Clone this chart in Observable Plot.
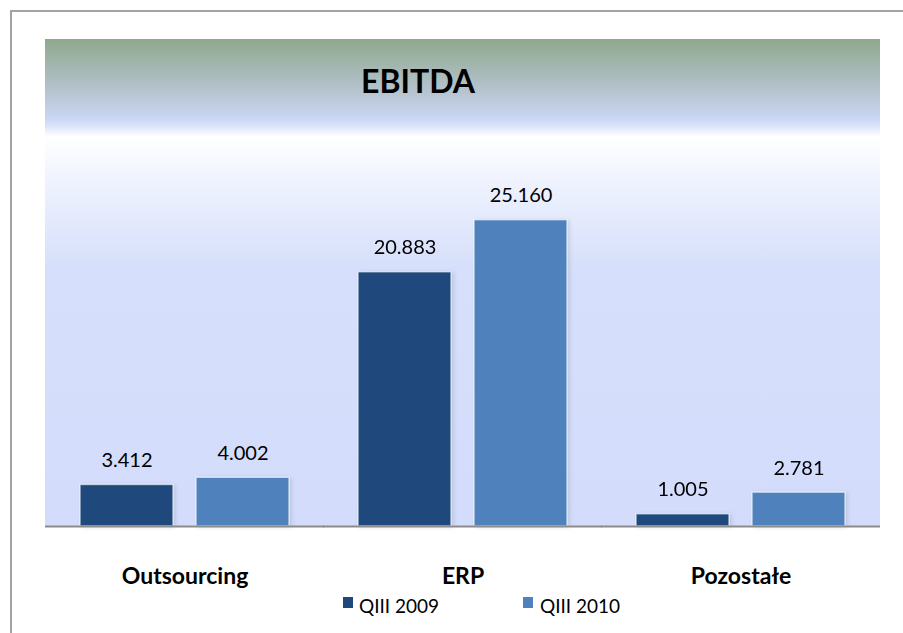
<!DOCTYPE html>
<html>
<head>
<meta charset="utf-8">
<script src="https://cdn.jsdelivr.net/npm/d3@7"></script>
<script src="https://cdn.jsdelivr.net/npm/@observablehq/plot@0.6"></script>
<style>
  body { margin: 0; background: #fff; overflow: hidden; font-family: Lato, "Open Sans", sans-serif; }
  #wrap { position: relative; width: 903px; height: 633px; overflow: hidden; background: #fff; }
  #border { position: absolute; left: 10px; top: 10px; width: 1000px; height: 1000px;
            border-top: 2px solid #a3a3a3; border-left: 2px solid #a3a3a3; box-sizing: border-box; }
  #bg { position: absolute; left: 45px; top: 39px; width: 835px; height: 487px;
        background: linear-gradient(to bottom, #8fa88c 0%, #b5c3ce 10.5%, #cbd7f5 16.5%, #dde5fb 18%,
                    #ffffff 20%, #eef2fe 30%, #d6dffb 47%, #d3ddfb 100%); }
  #chart { position: absolute; left: 0; top: 0; }
  #title { position: absolute; left: 318px; top: 65px; width: 200px; text-align: center;
           font-weight: 700; font-size: 32px; line-height: 1; color: #000; }
  .lg-sw { position: absolute; top: 597px; width: 10px; height: 11px; }
  .lg-tx { position: absolute; top: 596px; font-size: 19px; line-height: 1; color: #000; }
  #chart g[aria-label^="fx-axis"] { font-size: 23px; font-weight: 700; }
  #chart g[aria-label^="fx-axis"] text { fill: #000; }
  #chart g[aria-label="bar"] { filter: drop-shadow(2px 1px 2px rgba(0,0,0,0.12)); }
</style>
</head>
<body>
<div id="wrap">
  <div id="border"></div>
  <div id="bg"></div>
  <div id="chart"></div>
  <div id="title"></div>
  <div id="legend"></div>
</div>
<script>
const titleText = "EBITDA";
const categories = ["Outsourcing", "ERP", "Pozostałe"];
const series = ["QIII 2009", "QIII 2010"];
const values2009 = [3.412, 20.883, 1.005];
const values2010 = [4.002, 25.160, 2.781];
const labels2009 = ["3.412", "20.883", "1.005"];
const labels2010 = ["4.002", "25.160", "2.781"];
const colors = ["#1f497d", "#4f81bd"];

const data = categories.flatMap((c, i) => [
  { category: c, series: series[0], value: values2009[i], label: labels2009[i] },
  { category: c, series: series[1], value: values2010[i], label: labels2010[i] }
]);

const chart = Plot.plot({
  width: 903,
  height: 633,
  marginLeft: 44,
  marginRight: 23,
  marginTop: 39,
  marginBottom: 107,
  style: { background: "transparent", fontFamily: "Lato, 'Open Sans', sans-serif", overflow: "visible" },
  fx: { domain: categories, paddingInner: 0.25, paddingOuter: 0.125, label: null, tickSize: 0, tickPadding: 41 },
  x: { domain: series, paddingInner: 0.2, paddingOuter: 0, axis: null },
  y: { domain: [0, 40], axis: null },
  color: { domain: series, range: colors },
  marks: [
    Plot.barY(data, { fx: "category", x: "series", y: "value", fill: "series",
                      stroke: "#ffffff", strokeOpacity: 0.6, strokeWidth: 1.5 }),
    Plot.text(data, { fx: "category", x: "series", y: "value", text: "label",
                      lineAnchor: "bottom", dy: -18, fontSize: 20, fill: "#000" }),
    Plot.ruleY([0], { stroke: "#8c8c8c", strokeWidth: 2, insetLeft: -35, insetRight: -35 })
  ]
});
document.getElementById("chart").appendChild(chart);
document.getElementById("title").textContent = titleText;

const legend = document.getElementById("legend");
const swX = [343, 523];
const txX = [359, 540];
series.forEach((s, i) => {
  const sw = document.createElement("div");
  sw.className = "lg-sw";
  sw.style.left = swX[i] + "px";
  sw.style.background = colors[i];
  legend.appendChild(sw);
  const tx = document.createElement("div");
  tx.className = "lg-tx";
  tx.style.left = txX[i] + "px";
  tx.textContent = s;
  legend.appendChild(tx);
});
</script>
</body>
</html>
